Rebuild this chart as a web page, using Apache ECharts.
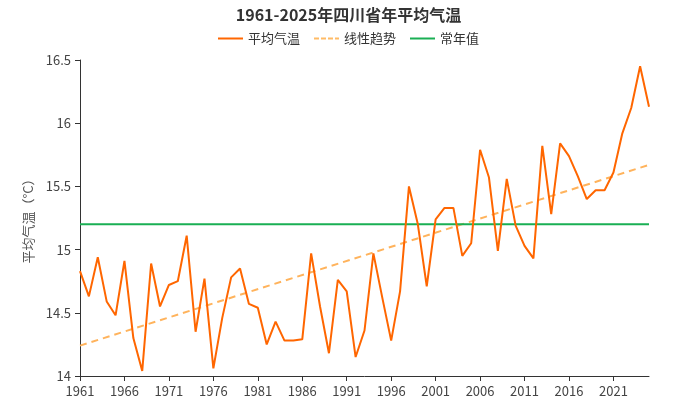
<!DOCTYPE html>
<html>
<head>
<meta charset="utf-8">
<script src="https://cdn.jsdelivr.net/npm/echarts@6/dist/echarts.min.js"></script>
<style>
  html, body { margin: 0; padding: 0; background: #fff; }
  #chart { width: 697px; height: 398px; }
</style>
</head>
<body>
<div id="chart"></div>
<script>
const years = [];
for (let y = 1961; y <= 2025; y++) years.push(String(y));

const temps = [
  14.83, 14.63, 14.94, 14.59, 14.48, 14.91, 14.30, 14.04, 14.89, 14.55,
  14.72, 14.75, 15.11, 14.35, 14.77, 14.06, 14.46, 14.78, 14.85, 14.57,
  14.54, 14.25, 14.43, 14.28, 14.28, 14.29, 14.97, 14.55, 14.18, 14.76,
  14.67, 14.15, 14.36, 14.97, 14.62, 14.28, 14.67, 15.50, 15.20, 14.71,
  15.24, 15.33, 15.33, 14.95, 15.05, 15.79, 15.57, 14.99, 15.56, 15.19,
  15.03, 14.93, 15.82, 15.28, 15.84, 15.74, 15.58, 15.40, 15.47, 15.47,
  15.61, 15.92, 16.12, 16.45, 16.13
];

// linear trend end points (1961, 2025)
const trendEnds = [14.24, 15.67];
const normalValue = 15.2;

const yTicks = [14, 14.5, 15, 15.5, 16, 16.5];

const fontFamily = '"Noto Sans CJK SC", "Noto Sans", sans-serif';
const chart = echarts.init(document.getElementById('chart'));

const lastIdx = years.length - 1;

chart.setOption({
  animation: false,
  textStyle: { fontFamily },
  title: {
    text: '1961-2025年四川省年平均气温',
    left: 'center',
    top: 2,
    textStyle: { fontSize: 16, fontWeight: 'bold', color: '#333', fontFamily }
  },
  legend: {
    top: 27,
    left: 'center',
    itemWidth: 25,
    itemHeight: 10,
    itemGap: 14,
    icon: 'path://M0,4 L25,4 L25,6 L0,6 Z',
    textStyle: { fontSize: 13, color: '#333', fontFamily },
    data: [
      { name: '平均气温', itemStyle: { color: '#ff6600' } },
      { name: '线性趋势', icon: 'path://M0,4 L5,4 L5,6 L0,6 Z M7,4 L12,4 L12,6 L7,6 Z M14,4 L19,4 L19,6 L14,6 Z M21,4 L25,4 L25,6 L21,6 Z', itemStyle: { color: '#ffbb66' } },
      { name: '常年值', itemStyle: { color: '#1aaf54' } }
    ]
  },
  grid: { left: 80, right: 48, top: 60, bottom: 20 },
  xAxis: {
    type: 'category',
    boundaryGap: false,
    data: years,
    axisLine: { lineStyle: { color: '#333' } },
    axisTick: { interval: 4, alignWithLabel: true, lineStyle: { color: '#333' } },
    axisLabel: { interval: 4, color: '#444', fontSize: 13, margin: 9 }
  },
  yAxis: {
    type: 'value',
    min: yTicks[0],
    max: yTicks[yTicks.length - 1],
    interval: 0.5,
    name: '平均气温（°C）',
    nameLocation: 'middle',
    nameGap: 44,
    nameTextStyle: { color: '#555', fontSize: 13 },
    axisLine: { show: true, lineStyle: { color: '#333' } },
    axisTick: { show: true, lineStyle: { color: '#333' } },
    splitLine: { show: false },
    axisLabel: { color: '#444', fontSize: 13, margin: 9 }
  },
  series: [
    {
      name: '平均气温',
      type: 'line',
      data: temps,
      showSymbol: false,
      symbol: 'none',
      lineStyle: { color: '#ff6600', width: 2 },
      itemStyle: { color: '#ff6600' },
      z: 3
    },
    {
      name: '线性趋势',
      type: 'line',
      data: [[0, trendEnds[0]], [lastIdx, trendEnds[1]]],
      symbol: 'none',
      lineStyle: { color: '#ffb35c', width: 2, type: [7, 5] },
      itemStyle: { color: '#ffbb66' },
      z: 2
    },
    {
      name: '常年值',
      type: 'line',
      data: [[0, normalValue], [lastIdx, normalValue]],
      symbol: 'none',
      lineStyle: { color: '#1aaf54', width: 2 },
      itemStyle: { color: '#1aaf54' },
      z: 2
    }
  ]
});
</script>
</body>
</html>
